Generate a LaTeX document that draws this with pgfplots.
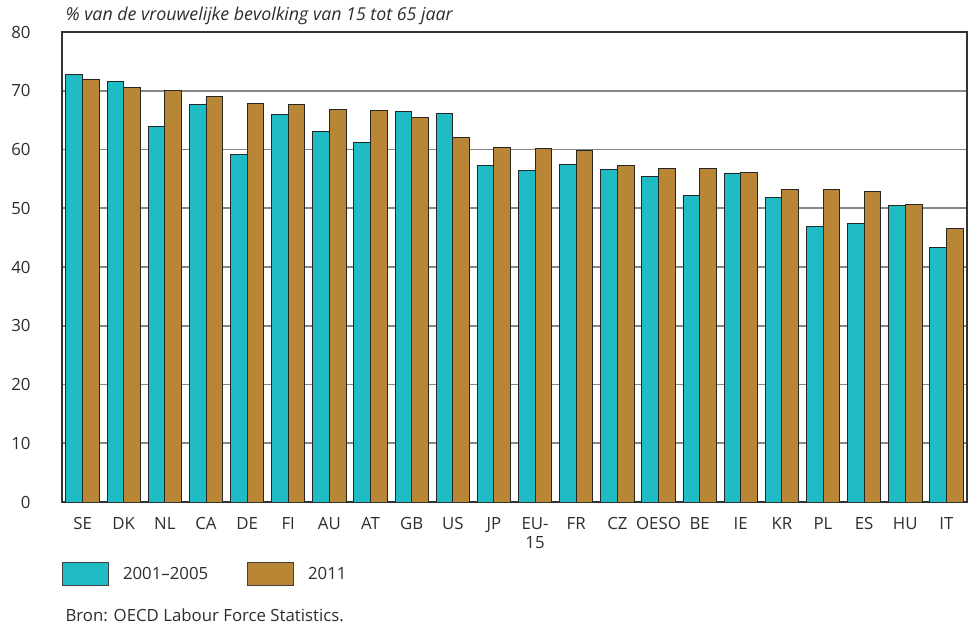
\documentclass[border=0pt]{standalone}
\usepackage{fontspec}
\setmainfont{Open Sans}
\usepackage{pgfplots}
\pgfplotsset{compat=1.18}
\definecolor{tq}{RGB}{32,188,198}
\definecolor{br}{RGB}{184,134,52}
\definecolor{txt}{RGB}{45,45,45}
\definecolor{gridc}{RGB}{135,135,135}
\begin{document}
\begin{tikzpicture}[x=1pt,y=1pt,font=\fontsize{16.8}{19}\selectfont\color{txt}]
\useasboundingbox (0,0) rectangle (968,628);
\begin{axis}[
  at={(62pt,126pt)}, anchor=south west,
  scale only axis, width=905pt, height=470pt,
  ymin=0, ymax=80, ytick={0,10,...,80},
  xmin=-0.5, xmax=21.5,
  xtick={0,...,21},
  xticklabels={SE,DK,NL,CA,DE,FI,AU,AT,GB,US,JP,{EU-\\15},FR,CZ,OESO,BE,IE,KR,PL,ES,HU,IT},
  xticklabel style={align=center, yshift=-12pt, text depth=0pt},
  yticklabel style={xshift=-28pt, anchor=east},
  /pgf/number format/assume math mode=true,
  major tick length=0pt,
  ymajorgrids, grid style={gridc, line width=1.6pt},
  axis line style={black!80, line width=1.2pt},
  ybar=0pt, bar width=0.405,
  legend style={at={(0,-0.1277)}, anchor=north west, draw=none, fill=none,
    inner sep=0pt, legend columns=2,
    /tikz/every odd column/.append style={column sep=12pt},
    /tikz/every even column/.append style={column sep=37pt}},
  legend image code/.code={\draw[#1, draw=black!75, line width=0.8pt] (0pt,-11.5pt) rectangle (46pt,11.5pt);},
  legend cell align=left,
]
\addplot[fill=tq, draw=black!85, line width=0.9pt] coordinates {
(0,72.8) (1,71.5) (2,63.9) (3,67.7) (4,59.1) (5,66.0) (6,63.0) (7,61.2) (8,66.5) (9,66.2) (10,57.2)
(11,56.4) (12,57.5) (13,56.6) (14,55.4) (15,52.2) (16,56.0) (17,51.8) (18,46.9) (19,47.4) (20,50.5) (21,43.4)};
\addplot[fill=br, draw=black!85, line width=0.9pt] coordinates {
(0,72.0) (1,70.5) (2,70.0) (3,69.0) (4,67.9) (5,67.7) (6,66.8) (7,66.6) (8,65.4) (9,62.1) (10,60.4)
(11,60.1) (12,59.9) (13,57.3) (14,56.8) (15,56.8) (16,56.1) (17,53.2) (18,53.2) (19,52.9) (20,50.7) (21,46.6)};
\legend{2001--2005, 2011}
\end{axis}
\node[anchor=base west, font=\fontsize{17.8}{20}\selectfont\itshape\color{txt}] at (62,607) {\% van de vrouwelijke bevolking van 15 tot 65 jaar};
\node[anchor=base west] at (62,6.3) {Bron: OECD Labour Force Statistics.};
\end{tikzpicture}
\end{document}
